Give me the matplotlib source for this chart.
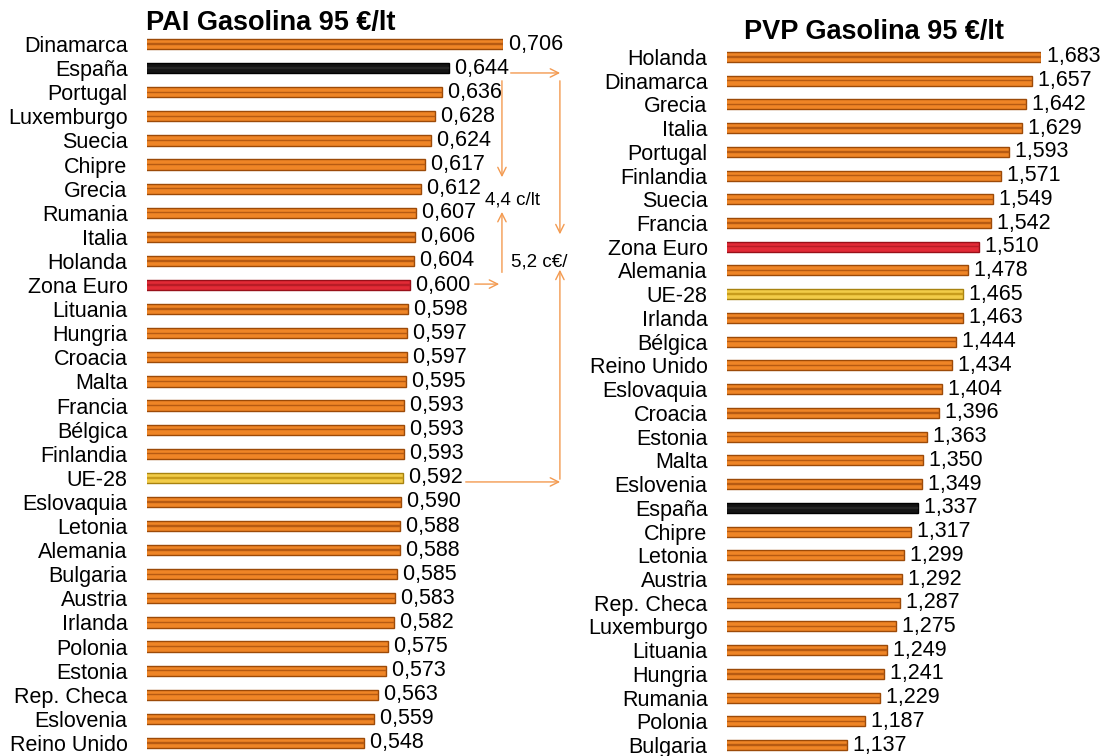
import matplotlib
matplotlib.use("Agg")
import matplotlib.pyplot as plt

plt.rcParams["font.family"] = ["Liberation Sans", "DejaVu Sans"]

# --- data --------------------------------------------------------------------
pai_countries = ["Dinamarca", "España", "Portugal", "Luxemburgo", "Suecia", "Chipre",
                 "Grecia", "Rumania", "Italia", "Holanda", "Zona Euro", "Lituania",
                 "Hungria", "Croacia", "Malta", "Francia", "Bélgica", "Finlandia",
                 "UE-28", "Eslovaquia", "Letonia", "Alemania", "Bulgaria", "Austria",
                 "Irlanda", "Polonia", "Estonia", "Rep. Checa", "Eslovenia", "Reino Unido"]
pai_values = [0.706, 0.644, 0.636, 0.628, 0.624, 0.617, 0.612, 0.607, 0.606, 0.604,
              0.600, 0.598, 0.597, 0.597, 0.595, 0.593, 0.593, 0.593, 0.592, 0.590,
              0.588, 0.588, 0.585, 0.583, 0.582, 0.575, 0.573, 0.563, 0.559, 0.548]

pvp_countries = ["Holanda", "Dinamarca", "Grecia", "Italia", "Portugal", "Finlandia",
                 "Suecia", "Francia", "Zona Euro", "Alemania", "UE-28", "Irlanda",
                 "Bélgica", "Reino Unido", "Eslovaquia", "Croacia", "Estonia", "Malta",
                 "Eslovenia", "España", "Chipre", "Letonia", "Austria", "Rep. Checa",
                 "Luxemburgo", "Lituania", "Hungria", "Rumania", "Polonia", "Bulgaria"]
pvp_values = [1.683, 1.657, 1.642, 1.629, 1.593, 1.571, 1.549, 1.542, 1.510, 1.478,
              1.465, 1.463, 1.444, 1.434, 1.404, 1.396, 1.363, 1.350, 1.349, 1.337,
              1.317, 1.299, 1.292, 1.287, 1.275, 1.249, 1.241, 1.229, 1.187, 1.137]

# face, edge, centre stripe
STYLE = {"España": ("#141414", "#000000", "#262626"),
         "Zona Euro": ("#E22A36", "#981019", "#B81C26"),
         "UE-28": ("#F2CC48", "#A88310", "#C89C1C")}
ORANGE = ("#EF8526", "#9C4A08", "#B65A12")
ARROW = "#F39A50"

W, H = 1103, 756
fig = plt.figure(figsize=(W / 100, H / 100), dpi=100)


def panel(rect, names, vals, xmin):
    ax = fig.add_axes(rect)
    n = len(names)
    for i, (c, v) in enumerate(zip(names, vals)):
        face, edge, mid = STYLE.get(c, ORANGE)
        ax.barh(i, v, height=0.42, color=face, edgecolor=edge, linewidth=1.0)
        ax.barh(i, v, height=0.06, color=mid, edgecolor=mid, linewidth=0.3)
        ax.text(v, i, " " + f"{v:.3f}".replace(".", ","), va="center", ha="left",
                fontsize=15.5, clip_on=False)
    ax.set_xlim(xmin, max(vals))
    ax.set_ylim(n - 0.5, -0.5)
    ax.set_yticks(range(n))
    ax.set_yticklabels(names, fontsize=15.5)
    ax.tick_params(axis="y", length=0, pad=14)
    ax.set_xticks([])
    for s in ax.spines.values():
        s.set_visible(False)
    ax.patch.set_alpha(0)
    return ax


ax1 = panel([147 / W, 1 - (32 + 723) / H, (503 - 147) / W, 723 / H],
            pai_countries, pai_values, 0.30)
ax2 = panel([727 / W, 1 - (45 + 712) / H, (1041 - 727) / W, 712 / H],
            pvp_countries, pvp_values, 0.80)

fig.text(271 / W, 1 - 23 / H, "PAI Gasolina 95 €/lt", ha="center", va="center",
         fontsize=19.5, fontweight="bold")
fig.text(874 / W, 1 - 32 / H, "PVP Gasolina 95 €/lt", ha="center", va="center",
         fontsize=19.5, fontweight="bold")

# --- difference brackets (España vs Zona Euro / UE-28) -----------------------
r_es = pai_countries.index("España")
r_ze = pai_countries.index("Zona Euro")
r_ue = pai_countries.index("UE-28")
x_in, x_out = 0.7048, 0.7709
ap = dict(arrowstyle="->,head_length=0.6,head_width=0.3", color=ARROW, lw=1.0)


def arrow(x0, y0, x1, y1):
    ax1.annotate("", xy=(x1, y1), xytext=(x0, y0), arrowprops=ap, annotation_clip=False)


arrow(0.7116, r_es + 0.2, 0.7743, r_es + 0.2)
arrow(x_out, r_es + 0.41, x_out, r_ze - 1.99)
arrow(x_in, r_es + 0.41, x_in, r_es + 4.64)
arrow(x_in, r_ze - 0.41, x_in, r_ze - 3.15)
arrow(0.6706, r_ze - 0.04, x_in, r_ze - 0.04)
arrow(x_out, r_ue + 0.17, x_out, r_ze - 0.75)
arrow(0.6603, r_ue + 0.17, 0.7743, r_ue + 0.17)
ax1.text(0.6854, r_es + 5.47, "4,4 c/lt", fontsize=13.5, va="center", ha="left",
         clip_on=False)
ax1.text(0.715, r_ze - 0.95, "5,2 c€/", fontsize=13.5, va="center", ha="left",
         clip_on=False)

fig.savefig("out.png", dpi=100)
